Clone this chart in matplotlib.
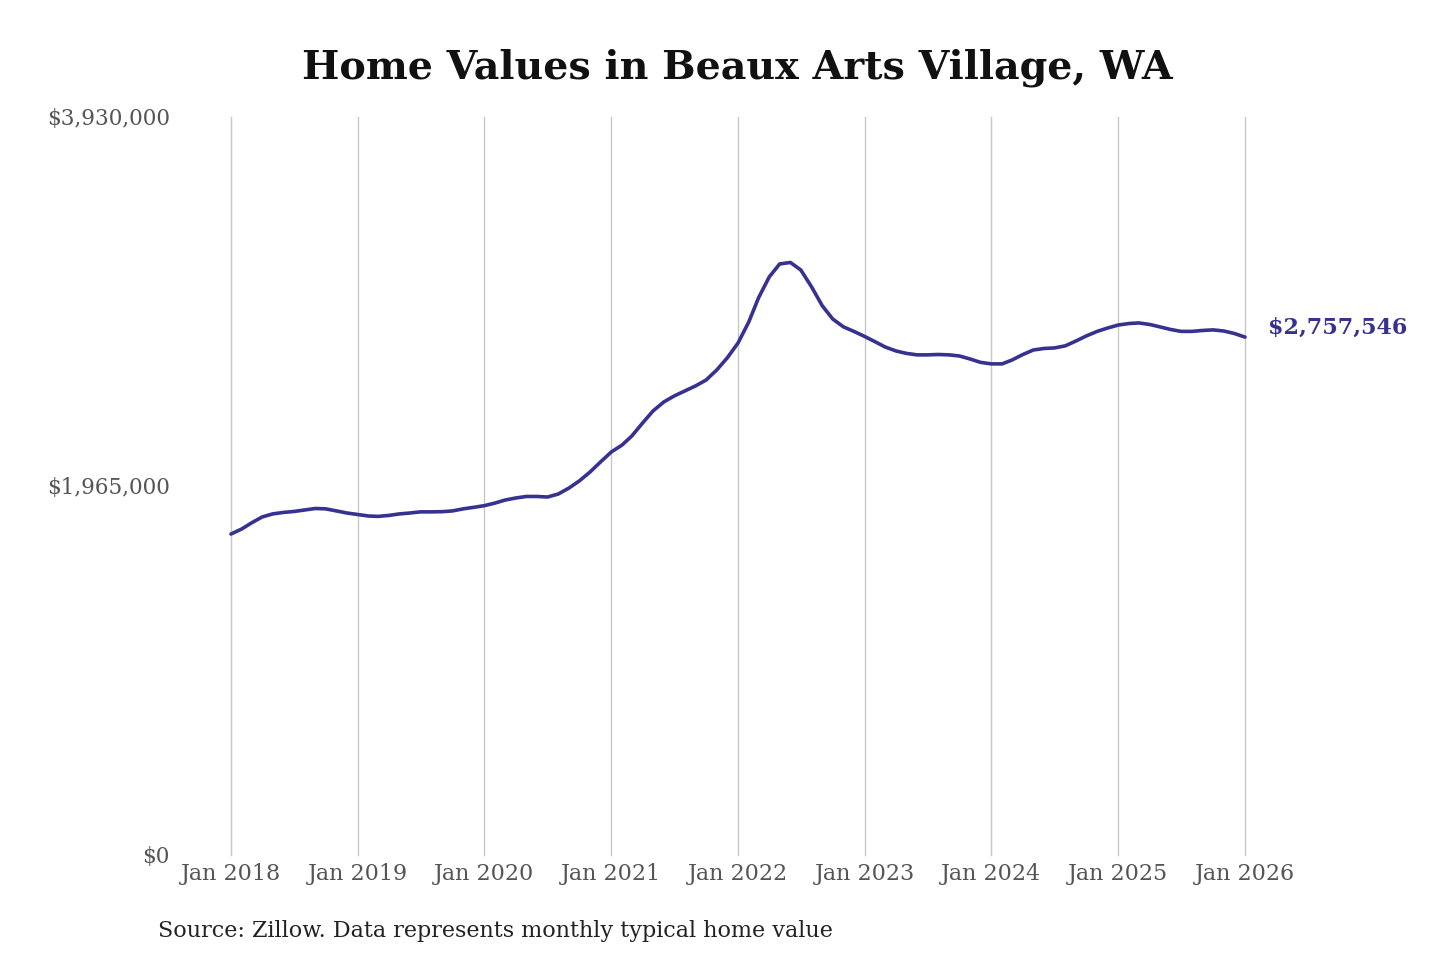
import pandas as pd
import matplotlib
matplotlib.use("Agg")
import matplotlib.pyplot as plt
import matplotlib.dates as mdates
from matplotlib.ticker import FuncFormatter

# Monthly typical home value, Jan 2018 - Jan 2026
values_2018 = [1709000, 1736000, 1768000, 1800000, 1816000, 1824000,
               1829000, 1837000, 1845000, 1843000, 1832000, 1821000]
values_2019 = [1813000, 1805000, 1803000, 1808000, 1816000, 1821000,
               1827000, 1827000, 1828000, 1832000, 1843000, 1851000]
values_2020 = [1860000, 1874000, 1890000, 1901000, 1909000, 1909000,
               1906000, 1922000, 1954000, 1992000, 2040000, 2093000]
values_2021 = [2146000, 2183000, 2231000, 2300000, 2364000, 2412000,
               2444000, 2471000, 2498000, 2529000, 2583000, 2647000]
values_2022 = [2726000, 2838000, 2966000, 3078000, 3147000, 3155000,
               3115000, 3025000, 2924000, 2854000, 2812000, 2788000]
values_2023 = [2761000, 2732000, 2705000, 2684000, 2671000, 2663000,
               2663000, 2665000, 2663000, 2657000, 2641000, 2623000]
values_2024 = [2615000, 2615000, 2636000, 2665000, 2689000, 2697000,
               2700000, 2711000, 2737000, 2764000, 2788000, 2806000]
values_2025 = [2822000, 2830000, 2833000, 2825000, 2812000, 2798000,
               2788000, 2788000, 2793000, 2796000, 2790000, 2777000]
values_2026 = [2757546]

values = (values_2018 + values_2019 + values_2020 + values_2021 + values_2022
          + values_2023 + values_2024 + values_2025 + values_2026)
dates = pd.date_range("2018-01-01", periods=len(values), freq="MS")

y_ticks = [0, 1965000, 3930000]
title = "Home Values in Beaux Arts Village, WA"
source = "Source: Zillow. Data represents monthly typical home value"

line_color = "#37318f"
plt.rcParams["font.family"] = ["DejaVu Serif"]

fig = plt.figure(figsize=(14.4, 9.6), dpi=100)
ax = fig.add_axes([0.1604, 0.1094, 0.7042, 0.7688])

ax.plot(dates, values, color=line_color, linewidth=2.6, clip_on=False,
        solid_capstyle="round", solid_joinstyle="round")

ax.set_xlim(dates[0], dates[-1])
ax.set_ylim(0, 3930000)

years = pd.date_range("2018-01-01", "2026-01-01", freq="YS")
ax.set_xticks(years)
ax.xaxis.set_major_formatter(mdates.DateFormatter("%b %Y"))
ax.set_yticks(y_ticks)
ax.yaxis.set_major_formatter(FuncFormatter(lambda v, p: f"${v:,.0f}"))

ax.grid(axis="x", color="#c8c8c8", linewidth=1)
ax.set_axisbelow(True)
for gl in ax.get_xgridlines():
    gl.set_clip_on(False)
for s in ax.spines.values():
    s.set_visible(False)
ax.tick_params(axis="x", length=0, labelsize=16, colors="#555555", pad=6)
ax.tick_params(axis="y", length=0, labelsize=15.5, colors="#555555", pad=44)

# end value label
ax.annotate(f"${values[-1]:,}", xy=(dates[-1], values[-1]),
            xytext=(16.5, 7), textcoords="offset points",
            color=line_color, fontsize=16, fontweight="bold",
            va="center", ha="left", annotation_clip=False)

fig.text(0.512, 0.929, title, ha="center", va="center",
         fontsize=28.5, fontweight="bold", color="#111111")
fig.text(0.110, 0.030, source, ha="left", va="center",
         fontsize=16, color="#222222")

fig.savefig("out.png", dpi=100, facecolor="white")
